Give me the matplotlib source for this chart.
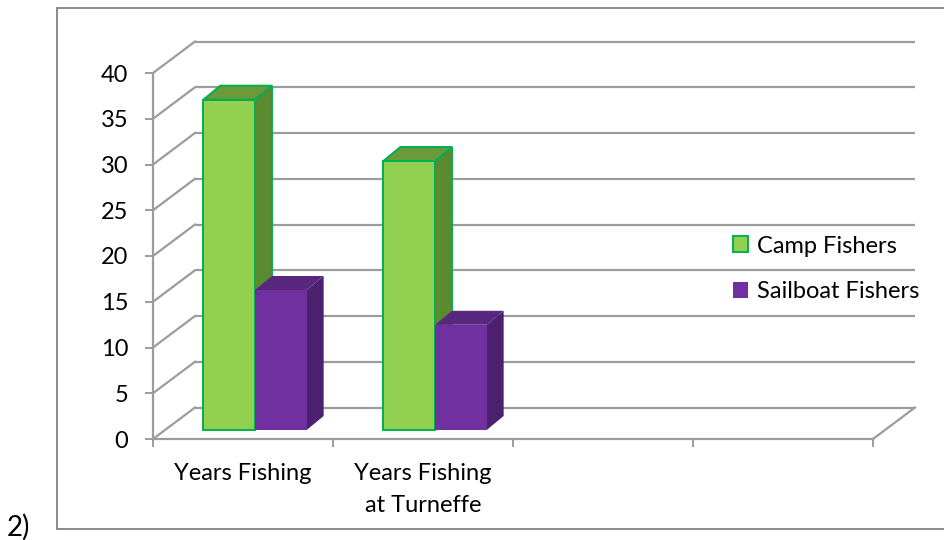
import numpy as np
import matplotlib.pyplot as plt
from matplotlib.patches import Polygon, Patch
from matplotlib.lines import Line2D

plt.rcParams['font.family'] = ['Lato', 'DejaVu Sans']

# survey results (mean years)
categories = ["Years Fishing", "Years Fishing\nat Turneffe", "", ""]
series_names = ["Camp Fishers", "Sailboat Fishers"]
camp_vals = [36.1, 29.4]
sailboat_vals = [15.3, 11.5]
y_ticks = [0, 5, 10, 15, 20, 25, 30, 35, 40]

face_cols = [("#92D050", "#6A9A3A", "#5C8A30"), ("#7030A0", "#58287F", "#4B2170")]
edge_cols = ["#00B050", None]
grid_col = "#9C9C9C"
FS = 17

DPI = 100
fig = plt.figure(figsize=(9.44, 5.40), dpi=DPI)
W, H = 944, 540

# front plane of the 3d box, in pixels
x0_px, x1_px, y0_px, y1_px = 153, 873, 439, 73
ax = fig.add_axes([x0_px / W, 1 - y0_px / H, (x1_px - x0_px) / W, (y0_px - y1_px) / H])
ncat = len(categories)
ax.set_xlim(0, ncat)
ax.set_ylim(0, 40)

# pixel -> data conversions for the oblique depth offsets
ppx = (x1_px - x0_px) / ncat
ppy = (y0_px - y1_px) / 40.0
def off(dx, dy):
    return dx / ppx, dy / ppy

wall_dx, wall_dy = off(42, 31.5)
bar_fx, bar_fy = off(12, 9)
bar_bx, bar_by = off(29, 23)

# back wall gridlines and left wall diagonals
for v in y_ticks:
    ax.plot([wall_dx, ncat + wall_dx], [v + wall_dy, v + wall_dy], color=grid_col, lw=1.6,
            clip_on=False, zorder=1, solid_capstyle='butt')
    ax.plot([0, wall_dx], [v, v + wall_dy], color=grid_col, lw=1.6, clip_on=False, zorder=1)
ax.plot([ncat, ncat + wall_dx], [0, wall_dy], color=grid_col, lw=1.6, clip_on=False, zorder=1)

# 3d bars
width = 0.287
for s, vals in enumerate([camp_vals, sailboat_vals]):
    front, top, side = face_cols[s]
    ec = edge_cols[s]
    lw = 1.4 if ec else 0
    for i, v in enumerate(vals):
        xl = i + 0.5 - width + s * width
        xr = xl + width
        fl, fr = xl + bar_fx, xr + bar_fx
        bl, br = xl + bar_bx, xr + bar_bx
        yb, yt = bar_fy, v + bar_fy
        ybb, ytb = bar_by, v + bar_by
        side_poly = Polygon([(fr, yb), (br, ybb), (br, ytb), (fr, yt)], closed=True,
                            facecolor=side, edgecolor=ec or side, lw=lw, zorder=3 + s, clip_on=False)
        top_poly = Polygon([(fl, yt), (fr, yt), (br, ytb), (bl, ytb)], closed=True,
                           facecolor=top, edgecolor=ec or top, lw=lw, zorder=3 + s, clip_on=False)
        front_poly = Polygon([(fl, yb), (fr, yb), (fr, yt), (fl, yt)], closed=True,
                             facecolor=front, edgecolor=ec or front, lw=lw, zorder=3 + s, clip_on=False)
        for p in (side_poly, top_poly, front_poly):
            ax.add_patch(p)

# axes styling
for name in ('top', 'right'):
    ax.spines[name].set_visible(False)
for name in ('left', 'bottom'):
    ax.spines[name].set_color(grid_col)
    ax.spines[name].set_linewidth(1.6)
ax.set_facecolor('none')
ax.set_yticks(y_ticks)
ax.set_xticks(np.arange(ncat + 1))
ax.set_xticklabels([])
ax.set_xticks(np.arange(ncat) + 0.5, minor=True)
ax.set_xticklabels(categories, minor=True, fontsize=FS, linespacing=1.65, va='top')
ax.tick_params(axis='y', length=5.8, width=1.4, color=grid_col, labelsize=FS, pad=12)
ax.tick_params(axis='x', which='major', length=5.8, width=1.4, color=grid_col)
ax.tick_params(axis='x', which='minor', length=0, pad=17)

handles = [Patch(facecolor=face_cols[0][0], edgecolor=edge_cols[0], lw=1.4),
           Patch(facecolor=face_cols[1][0], edgecolor=face_cols[1][0], lw=0)]
leg = ax.legend(handles, series_names, loc='center left', frameon=False, fontsize=FS,
                bbox_to_anchor=(733 / W, 1 - 269 / H), bbox_transform=fig.transFigure,
                handlelength=0.65, handleheight=0.65, handletextpad=0.35, labelspacing=1.05,
                borderaxespad=0, borderpad=0)

# outer frame (right side runs off the page)
fc = "#8A8A8A"
fl_, ft_, fb_ = 57 / W, 1 - 8 / H, 1 - 529 / H
fig.add_artist(Line2D([fl_, 1.02], [ft_, ft_], color=fc, lw=1.4, transform=fig.transFigure))
fig.add_artist(Line2D([fl_, 1.02], [fb_, fb_], color=fc, lw=1.4, transform=fig.transFigure))
fig.add_artist(Line2D([fl_, fl_], [fb_, ft_], color=fc, lw=1.4, transform=fig.transFigure))
fig.text(7 / W, 1 - 527 / H, "2)", fontsize=20, va='center', ha='left')

fig.savefig("out.png", dpi=DPI)
